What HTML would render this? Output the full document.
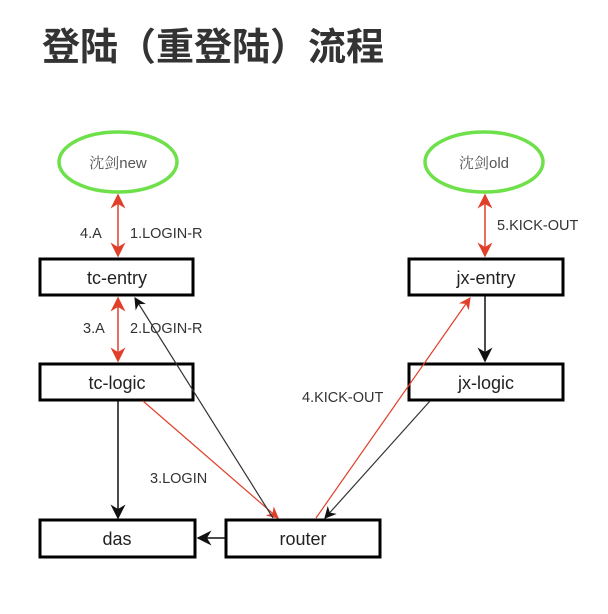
<!DOCTYPE html>
<html><head><meta charset="utf-8"><style>
body{margin:0;background:#fff;width:608px;height:609px;overflow:hidden}
</style></head><body>
<svg width="608" height="609" xmlns="http://www.w3.org/2000/svg" font-family="Liberation Sans, Arial, sans-serif">
<defs>
<marker id="r" viewBox="0 0 10 10" refX="9" refY="5" markerWidth="10" markerHeight="10" orient="auto-start-reverse"><path d="M0,0 L10,5 L0,10 L3,5z" fill="#e0402a"/></marker>
<marker id="k" viewBox="0 0 10 10" refX="9" refY="5" markerWidth="10" markerHeight="10" orient="auto-start-reverse"><path d="M0,0 L10,5 L0,10 L3,5z" fill="#111"/></marker>
</defs>
<text x="42" y="60" font-size="38" font-weight="bold" fill="#333" font-family="Liberation Sans, Noto Sans CJK SC, sans-serif">登陆（重登陆）流程</text>
<ellipse cx="118" cy="162" rx="59" ry="30" fill="#fff" stroke="#6ee04a" stroke-width="3.5"/>
<text x="118" y="168" font-size="15" text-anchor="middle" fill="#555" font-family="Liberation Sans, Noto Serif CJK SC, sans-serif">沈剑new</text>
<ellipse cx="484" cy="162" rx="59" ry="30" fill="#fff" stroke="#6ee04a" stroke-width="3.5"/>
<text x="484" y="168" font-size="15" text-anchor="middle" fill="#555" font-family="Liberation Sans, Noto Serif CJK SC, sans-serif">沈剑old</text>
<g fill="#fff" stroke="#000" stroke-width="3">
<rect x="40" y="259" width="153" height="36"/>
<rect x="40" y="364" width="153" height="36"/>
<rect x="40" y="520" width="155" height="37"/>
<rect x="226" y="520" width="154" height="37"/>
<rect x="409" y="259" width="154" height="36"/>
<rect x="409" y="364" width="154" height="36"/>
</g>
<g font-size="18" text-anchor="middle" fill="#222">
<text x="117" y="284">tc-entry</text>
<text x="117" y="389">tc-logic</text>
<text x="117" y="545">das</text>
<text x="303" y="545">router</text>
<text x="486" y="284">jx-entry</text>
<text x="486" y="389">jx-logic</text>
</g>
<g stroke-width="1.5" fill="none">
<line x1="118" y1="195" x2="118" y2="256" stroke="#e0402a" marker-start="url(#r)" marker-end="url(#r)"/>
<line x1="118" y1="298" x2="118" y2="361" stroke="#e0402a" marker-start="url(#r)" marker-end="url(#r)"/>
<line x1="118" y1="401" x2="118" y2="518" stroke="#111" marker-end="url(#k)"/>
<line x1="143" y1="401" x2="278" y2="518" stroke="#e0402a" stroke-width="1.2" marker-end="url(#r)"/>
<line x1="273" y1="518" x2="135" y2="298" stroke="#333" stroke-width="1.2" marker-end="url(#k)"/>
<line x1="316" y1="518" x2="470" y2="298" stroke="#e0402a" stroke-width="1.2" marker-end="url(#r)"/>
<line x1="430" y1="401" x2="325" y2="518" stroke="#333" stroke-width="1.2" marker-end="url(#k)"/>
<line x1="485" y1="296" x2="485" y2="361" stroke="#111" marker-end="url(#k)"/>
<line x1="485" y1="195" x2="485" y2="256" stroke="#e0402a" marker-start="url(#r)" marker-end="url(#r)"/>
<line x1="225" y1="538" x2="198" y2="538" stroke="#111" marker-end="url(#k)"/>
</g>
<g font-size="14.5" fill="#333">
<text x="80" y="238">4.A</text>
<text x="130" y="238">1.LOGIN-R</text>
<text x="83" y="333">3.A</text>
<text x="130" y="333">2.LOGIN-R</text>
<text x="150" y="483">3.LOGIN</text>
<text x="302" y="402">4.KICK-OUT</text>
<text x="497" y="230">5.KICK-OUT</text>
</g>
</svg>
</body></html>
